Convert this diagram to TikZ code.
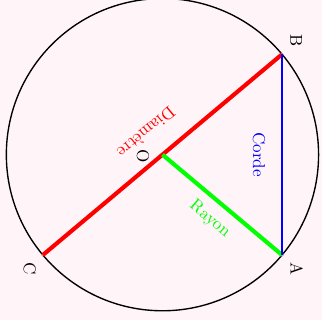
\documentclass[tikz,border=0pt]{standalone}
\usepackage{xcolor}
\usepackage{tikz}
\definecolor{bgpink}{RGB}{255,245,248}

\begin{document}
\begin{tikzpicture}[
        ptlbl/.style={rotate=-90,inner sep=0pt},
        seglbl/.style={inner sep=0pt},
        ptdot/.style={fill=gray!70}]
        \fill[bgpink] (-3.33,-3.39) rectangle (3.27,3.17);
        \useasboundingbox (-3.33,-3.39) rectangle (3.27,3.17);
        \clip (-3.33,-3.39) rectangle (3.27,3.17);
        \coordinate (O) at (0,0);
        \foreach \p/\ang in {A/-40,B/40,C/220}{
          \coordinate (\p) at (\ang:3.2);
        }
        \draw[line width=0.8pt] (O) circle (3.2);
        \foreach \p in {O,A,B,C}
          \fill[ptdot] (\p) circle (0.035);
        \draw[red,line width=2.4pt] (C) -- (B);
        \draw[green,line width=2.4pt] (O) -- (A);
        \draw[blue,line width=0.8pt] (A) -- (B);
        \node[ptlbl] (lblB) at ([shift={(0.29,0.28)}]B) {B};
        \node[ptlbl] (lblA) at ([shift={(0.30,-0.28)}]A) {A};
        \node[ptlbl] (lblC) at ([shift={(-0.27,-0.29)}]C) {C};
        \node[ptlbl] (lblO) at ([shift={(-0.40,-0.03)}]O) {O};
        \node[seglbl,red,rotate=220] (lblDiam) at (-0.33,0.45) {Diamètre};
        \node[seglbl,blue,rotate=-90] (lblCorde) at (1.98,0) {Corde};
        \node[seglbl,green,rotate=-40] (lblRayon) at (0.97,-1.32) {Rayon};
      \end{tikzpicture}
\end{document}
